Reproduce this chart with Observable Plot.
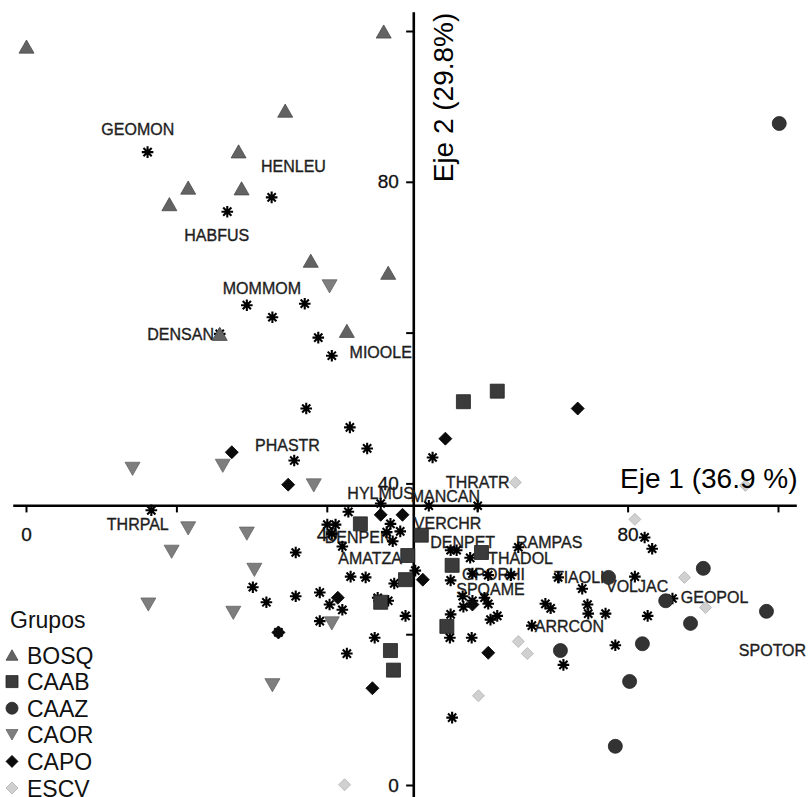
<!DOCTYPE html>
<html><head><meta charset="utf-8">
<script src="https://cdn.jsdelivr.net/npm/d3@7"></script>
<script src="https://cdn.jsdelivr.net/npm/@observablehq/plot@0.6"></script>
<style>
html,body{margin:0;padding:0;background:#fff;}
#wrap{position:relative;width:809px;height:797px;overflow:hidden;font-family:"Liberation Sans",Arial,sans-serif;}
#wrap svg{display:block;}
#legend{position:absolute;left:0;top:600px;}
</style></head><body><div id="wrap"></div>
<script>
// ---- data (ordination scores) ----
const groupNames = ["BOSQ","CAAB","CAAZ","CAOR","CAPO","ESCV"];
const BOSQ = [[0.0,98.0],[47.5,100.0],[34.4,89.5],[28.2,84.1],[21.5,79.3],[28.6,79.2],[19.0,77.1],[37.8,69.6],[48.1,68.0],[42.6,60.3],[25.7,59.9]];
const CAAB = [[58.1,50.9],[62.6,52.3],[44.4,34.7],[50.7,30.5],[50.4,27.3],[47.1,24.3],[48.4,17.9],[48.8,15.3],[52.5,33.2],[60.5,30.9],[56.6,29.2],[55.9,21.1]];
const CAAZ = [[100.1,87.8],[77.4,27.6],[90.0,28.8],[85.0,24.5],[98.4,23.1],[88.3,21.5],[81.9,18.8],[71.0,17.9],[80.2,13.8],[78.3,5.2]];
const CAOR = [[40.3,66.2],[14.1,42.0],[26.1,42.4],[38.2,39.8],[21.5,34.1],[29.3,33.4],[19.3,31.0],[30.3,28.6],[16.2,24.0],[27.5,22.9],[40.6,21.5],[32.7,13.3]];
const CAPO = [[27.3,44.2],[34.8,39.9],[55.7,46.0],[73.3,50.0],[47.1,35.9],[50.0,35.9],[41.4,24.9],[33.5,20.3],[46.0,12.9],[52.7,27.3],[59.3,24.0],[61.4,17.6]];
const ESCV = [[65.0,40.2],[95.6,39.8],[80.9,35.3],[87.5,27.6],[90.3,23.6],[65.4,19.1],[66.6,17.5],[60.1,11.9],[42.3,0.1]];
const species = [[16.1,84.0],[26.7,76.1],[32.6,78.0],[29.3,63.7],[32.7,62.1],[37.0,63.9],[38.8,59.4],[40.6,57.0],[25.7,59.9],[37.2,50.0],[43.0,47.5],[45.3,44.7],[35.6,43.1],[16.6,36.5],[42.8,36.3],[47.1,37.4],[54.0,43.5],[53.5,37.1],[60.0,37.1],[40.0,34.6],[41.1,34.6],[40.6,33.4],[42.0,31.7],[48.4,34.7],[49.7,33.7],[48.7,32.4],[47.9,33.6],[35.8,30.9],[43.1,27.7],[45.1,27.6],[48.9,26.8],[51.7,28.5],[30.1,26.3],[31.9,24.3],[35.8,25.1],[39.0,25.6],[40.3,24.0],[42.0,23.3],[39.0,21.8],[46.7,24.9],[48.1,24.5],[50.4,22.5],[46.3,19.6],[42.6,17.5],[33.5,20.3],[56.4,31.2],[57.2,31.2],[59.0,30.2],[65.4,31.6],[56.4,27.2],[59.3,28.1],[61.4,27.9],[64.4,27.9],[70.7,27.6],[73.9,26.1],[58.0,25.1],[59.3,24.5],[60.9,24.9],[58.1,23.7],[61.4,24.1],[69.0,24.1],[69.7,23.5],[74.6,24.0],[74.7,22.8],[56.4,22.7],[61.7,22.0],[62.6,22.5],[67.2,21.2],[56.3,19.6],[59.2,19.6],[77.0,22.8],[80.9,27.7],[82.2,32.9],[83.2,31.4],[85.9,24.8],[82.6,22.5],[78.3,18.6],[71.4,16.0],[56.6,9.0]];
const speciesLabels = ["GEOMON","HENLEU","HABFUS","MOMMOM","DENSAN","MIOOLE","PHASTR","HYLMUS","MANCAN","THRATR","THRPAL","VERCHR","DENPEN","DENPET","RAMPAS","THADOL","AMATZA","OPORHI","TIAOLI","SPOAME","VOLJAC","GEOPOL","ARRCON","SPOTOR"];
const labelX = [14.8,35.5,25.3,31.3,20.5,47.1,34.7,47.1,55.7,60.0,14.8,56.0,44.1,58.0,69.5,65.7,45.7,62.1,73.5,61.7,81.2,91.5,72.2,99.2];
const labelY = [86.9,82.0,72.9,65.9,59.8,57.4,45.1,38.7,38.3,40.1,34.5,34.7,32.9,32.2,32.2,30.0,30.1,27.9,27.6,25.9,26.3,24.9,21.1,17.9];
const axisTicks = [0,20,40,60,80,100];
const tickLabels = [0,40,80];
const xCross = 51.5, yCross = 37.1;
const xTitle = "Eje 1 (36.9 %)", yTitle = "Eje 2 (29.8%)";
const legendTitle = "Grupos";

// ---- symbols ----
const rad = s => Math.sqrt(s/Math.PI);
const triUp = {draw(c,s){const r=rad(s),h=r*1.75;c.moveTo(0,-h/2);c.lineTo(r,h/2);c.lineTo(-r,h/2);c.closePath();}};
const triDown = {draw(c,s){const r=rad(s),h=r*1.75;c.moveTo(-r,-h/2);c.lineTo(r,-h/2);c.lineTo(0,h/2);c.closePath();}};
const sq = {draw(c,s){const r=rad(s);c.rect(-r,-r,2*r,2*r);}};
const circ = {draw(c,s){const r=rad(s);c.moveTo(r,0);c.arc(0,0,r,0,2*Math.PI);}};
const diam = {draw(c,s){const r=rad(s);c.moveTo(0,-r);c.lineTo(r,0);c.lineTo(0,r);c.lineTo(-r,0);c.closePath();}};
const aster = {draw(c,s){const r=rad(s),d=r*0.7071;c.moveTo(-r,0);c.lineTo(r,0);c.moveTo(0,-r);c.lineTo(0,r);c.moveTo(-d,-d);c.lineTo(d,d);c.moveTo(-d,d);c.lineTo(d,-d);}};

const styles = {
  BOSQ:{data:BOSQ,symbol:triUp,r:7.5,fill:"#636363",stroke:"#4a4a4a",lr:6},
  CAAB:{data:CAAB,symbol:sq,r:7,fill:"#3b3b3b",stroke:"#222",lr:6},
  CAAZ:{data:CAAZ,symbol:circ,r:7,fill:"#333",stroke:"#222",lr:6},
  CAOR:{data:CAOR,symbol:triDown,r:7.5,fill:"#7e7e7e",stroke:"#666",lr:6},
  CAPO:{data:CAPO,symbol:diam,r:6.5,fill:"#0b0b0b",stroke:"#000",lr:6},
  ESCV:{data:ESCV,symbol:diam,r:6,fill:"#d0d0d0",stroke:"#b3b3b3",lr:6}
};

const labelData = speciesLabels.map((n,i)=>({n,x:labelX[i],y:labelY[i]}));

const marks = [
  // axes
  Plot.ruleY([yCross],{x1:-1.7,x2:102.5,stroke:"#000",strokeWidth:2.6}),
  Plot.ruleX([xCross],{y1:-2,y2:102.5,stroke:"#000",strokeWidth:2.6}),
  Plot.ruleX(axisTicks,{x:d=>d,y1:yCross,y2:yCross-0.95,stroke:"#000",strokeWidth:2}),
  Plot.ruleY(axisTicks,{y:d=>d,x1:xCross-0.95,x2:xCross,stroke:"#000",strokeWidth:2}),
  Plot.text(tickLabels,{x:d=>d,y:()=>yCross,dy:29,text:d=>String(d),fontSize:19,fill:"#111",stroke:"#111",strokeWidth:0.3}),
  Plot.text(tickLabels,{y:d=>d,x:()=>xCross,dx:-15,textAnchor:"end",text:d=>String(d),fontSize:19,fill:"#111",stroke:"#111",strokeWidth:0.3}),
  // species labels
  Plot.text(labelData,{x:"x",y:"y",text:"n",fontSize:16,fill:"#1e1e1e",stroke:"#1e1e1e",strokeWidth:0.35}),
  // species points
  Plot.dot(species,{x:d=>d[0],y:d=>d[1],symbol:aster,r:5.8,fill:"none",stroke:"#000",strokeWidth:2.1}),
];
for (const g of groupNames) {
  const s = styles[g];
  marks.push(Plot.dot(s.data,{x:d=>d[0],y:d=>d[1],symbol:s.symbol,r:s.r,fill:s.fill,stroke:s.stroke,strokeWidth:0.8}));
}
marks.push(
  Plot.text([xTitle],{y:()=>yCross,frameAnchor:"right",dx:19,dy:-27,textAnchor:"end",fontSize:28,fill:"#000"}),
  Plot.text([yTitle],{x:()=>xCross,y:()=>80,dx:30,rotate:-90,textAnchor:"start",fontSize:28,fill:"#000"})
);

const chart = Plot.plot({
  width:809,height:797,
  marginLeft:26,marginRight:31,marginTop:31,marginBottom:12,
  x:{domain:[0,100],axis:null},
  y:{domain:[0,100],axis:null},
  style:{fontFamily:"'Liberation Sans',Arial,sans-serif",background:"#fff",overflow:"visible"},
  marks
});
const wrap = document.getElementById("wrap");
wrap.appendChild(chart);

// ---- legend ----
const leg = d3.select(wrap).append("svg").attr("id","legend").attr("width",130).attr("height",200)
  .style("font-family","'Liberation Sans',Arial,sans-serif");
leg.append("text").attr("x",10).attr("y",28).attr("font-size",23).attr("fill","#111").text(legendTitle);
groupNames.forEach((g,i)=>{
  const s = styles[g];
  const cy = 55 + 26.6*i;
  leg.append("path").attr("transform",`translate(12,${cy})`)
    .attr("d",d3.symbol(s.symbol, s.lr*s.lr*Math.PI)())
    .attr("fill",s.fill).attr("stroke",s.stroke).attr("stroke-width",0.8);
  leg.append("text").attr("x",27).attr("y",cy+8.5).attr("font-size",23).attr("fill","#111").text(g);
});
</script></body></html>
